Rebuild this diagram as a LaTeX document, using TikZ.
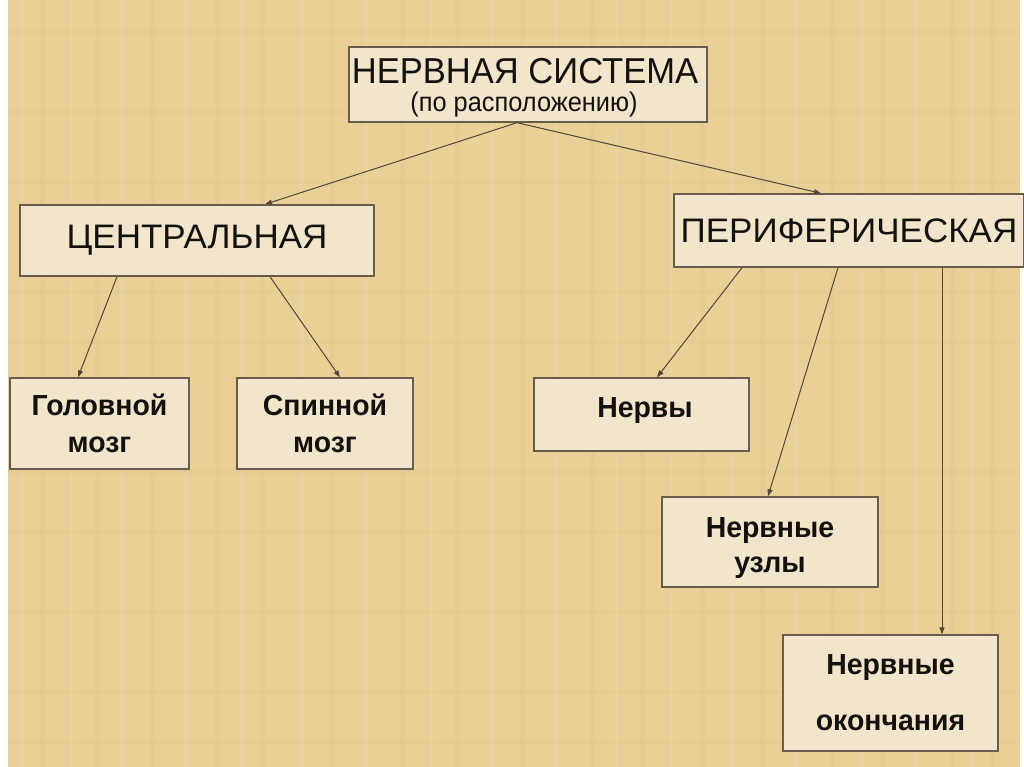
\documentclass[tikz,border=0pt]{standalone}
\usepackage{fontspec}
\setmainfont{Liberation Sans}
\newfontfamily\titlefont[FakeStretch=0.96]{Liberation Sans}
\newfontfamily\subfont[FakeStretch=0.94]{Liberation Sans}
\newfontfamily\midfont[FakeStretch=1.03]{Liberation Sans}
\newfontfamily\boldnarrow[FakeStretch=0.98]{Liberation Sans Bold}
\usetikzlibrary{arrows.meta}
\definecolor{papyrus}{RGB}{232,208,150}
\definecolor{papyrusdark}{RGB}{221,194,134}
\definecolor{papyruslight}{RGB}{240,220,170}
\definecolor{boxfill}{RGB}{241,230,204}
\definecolor{boxline}{RGB}{105,92,75}
\definecolor{arrline}{RGB}{85,70,55}
\definecolor{ink}{RGB}{20,16,12}
\tikzset{
  pbox/.style={draw=boxline, fill=boxfill, line width=1.4pt, inner sep=0pt, align=center, text=ink},
  arr/.style={draw=arrline, line width=1pt, -{Triangle[length=7pt,width=5pt]}},
}
\begin{document}
\begin{tikzpicture}[x=1pt,y=-1pt]
\useasboundingbox (0,0) rectangle (1024,767);
\fill[white] (0,0) rectangle (1024,767);
\fill[papyrus] (8,0) rectangle (1020,767);
% faint papyrus texture
\foreach \x in {40,95,150,215,260,330,400,455,520,590,640,700,760,830,880,950,990}
  \fill[papyrusdark, opacity=0.22] (\x,0) rectangle (\x+5,767);
\foreach \x in {20,70,120,185,240,300,365,430,490,555,615,670,730,795,860,915,970}
  \fill[papyruslight, opacity=0.3] (\x,0) rectangle (\x+3,767);
\foreach \y in {30,110,180,290,340,470,530,610,690,740}
  \fill[papyrusdark, opacity=0.15] (8,\y) rectangle (1020,\y+4);

\node[pbox, minimum width=358pt, minimum height=75pt] (top) at (528,84.5) {};
\node[text=ink, font=\titlefont\fontsize{36}{36}\selectfont] (toptxt) at (525,71) {НЕРВНАЯ СИСТЕМА};
\node[text=ink, font=\subfont\fontsize{27}{27}\selectfont] (topsub) at (524,105) {(по расположению)};

\node[pbox, minimum width=354pt, minimum height=71pt,
      font=\midfont\fontsize{34}{34}\selectfont] (cen) at (197,240.5) {ЦЕНТРАЛЬНАЯ};
\node[pbox, minimum width=350pt, minimum height=73pt,
      font=\midfont\fontsize{34}{34}\selectfont] (per) at (849,230.5) {ПЕРИФЕРИЧЕСКАЯ};

\node[pbox, minimum width=179pt, minimum height=91pt,
      font=\boldnarrow\fontsize{29}{37}\selectfont] (gol) at (99.5,423.5) {Головной\\мозг};
\node[pbox, minimum width=176pt, minimum height=91pt,
      font=\boldnarrow\fontsize{29}{37}\selectfont] (spin) at (325,423.5) {Спинной\\мозг};
\node[pbox, minimum width=215pt, minimum height=73pt] (nerv) at (641.5,414.5) {};
\node[text=ink, font=\boldnarrow\fontsize{29}{37}\selectfont] (nervtxt) at (645,411) {Нервы};
\node[pbox, minimum width=216pt, minimum height=90pt] (uzl) at (770,542) {};
\node[text=ink, font=\boldnarrow\fontsize{29}{35}\selectfont, align=center] (uzltxt) at (770,548) {Нервные\\узлы};
\node[pbox, minimum width=215pt, minimum height=116pt,
      font=\boldnarrow\fontsize{29}{56}\selectfont] (okon) at (890.5,693) {Нервные\\окончания};

\draw[arr] ([xshift=-11pt]top.south) -- ([xshift=68pt]cen.north);
\draw[arr] ([xshift=-11pt]top.south) -- ([xshift=-28pt]per.north);
\draw[arr] ([xshift=-80pt]cen.south) -- ([xshift=-21.5pt]gol.north);
\draw[arr] ([xshift=73pt]cen.south) -- ([xshift=15pt]spin.north);
\draw[arr] ([xshift=-107pt]per.south) -- ([xshift=15.5pt]nerv.north);
\draw[arr] ([xshift=-11pt]per.south) -- ([xshift=-2pt]uzl.north);
\draw[arr] ([xshift=93pt]per.south) -- ([xshift=51.5pt]okon.north);
\end{tikzpicture}
\end{document}
